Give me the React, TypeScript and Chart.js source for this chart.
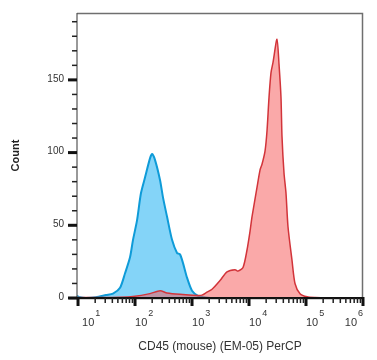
import React, { useEffect, useRef } from "react";
import { Chart, registerables } from "chart.js";

Chart.register(...registerables);

// Blue histogram (unstained / control)
const blueX = [9.6, 10.8, 13.8, 20.7, 31.0, 41.1, 54.6, 66.8, 81.7, 92.2, 108, 127, 150, 183, 199, 224, 275, 310, 364, 446, 546, 615, 695, 817, 1000, 1274, 1626, 2070];
const blueY = [1.5, 0.5, 0, 0.5, 2, 3, 7, 17, 28, 40, 53, 72, 83, 96, 99, 95, 81, 69, 56, 40, 31, 30, 24, 14, 5, 1.5, 0.5, 0];

// Red histogram (CD45 stained)
const redX = [9.6, 24.3, 54.6, 92.2, 183, 275, 364, 615, 1224, 1496, 1832, 2244, 3098, 4111, 5675, 6409, 7853, 9226, 10430, 11300, 13810, 15600, 16910, 19100, 20700, 22440, 24320, 26370, 30970, 33570, 36390, 37920, 41110, 44570, 48310, 56750, 64090, 78530, 104300, 143900, 263600, 1000000];
const redY = [0.3, 0.3, 0.5, 1, 3, 5, 3.5, 2.5, 1.8, 2, 4, 6, 12, 18, 19.5, 18.5, 21, 33, 46, 56, 76, 88, 92, 101, 115, 138, 155, 162, 178, 161, 138, 111, 86, 72, 49, 26, 10, 3, 0.8, 0.3, 0.1, 0];

const yMajorTicks = [0, 50, 100, 150];
const yMinorTicks = [10, 20, 30, 40, 60, 70, 80, 90, 110, 120, 130, 140, 160, 170, 180, 190];
const xDecades = [1, 2, 3, 4, 5, 6];
const xTitle = "CD45 (mouse) (EM-05) PerCP";
const yTitle = "Count";

const FONT = '"Liberation Sans", Arial, sans-serif';

const axesPlugin = {
  id: "flowAxes",
  afterDraw(chart: any) {
    const { ctx, chartArea: a, scales } = chart;
    const xs = scales.x;
    const ys = scales.y;
    ctx.save();
    // frame
    ctx.strokeStyle = "#6f6f6f";
    ctx.lineWidth = 1.5;
    ctx.beginPath();
    ctx.moveTo(a.left, a.top + 0.5);
    ctx.lineTo(a.right - 0.5, a.top + 0.5);
    ctx.lineTo(a.right - 0.5, a.bottom);
    ctx.stroke();
    ctx.strokeStyle = "#555";
    ctx.lineWidth = 1.2;
    ctx.beginPath();
    ctx.moveTo(a.left, a.top);
    ctx.lineTo(a.left, a.bottom);
    ctx.stroke();
    // x axis line
    ctx.fillStyle = "#111";
    ctx.fillRect(a.left - 8, a.bottom - 1, a.right - a.left + 9, 2.2);

    // y ticks
    for (const v of yMinorTicks) {
      const y = ys.getPixelForValue(v);
      ctx.fillStyle = "#222";
      ctx.fillRect(a.left - 5, y - 0.75, 5, 1.5);
    }
    ctx.font = `10px ${FONT}`;
    ctx.textAlign = "right";
    ctx.textBaseline = "middle";
    for (const v of yMajorTicks) {
      const y = ys.getPixelForValue(v);
      ctx.fillStyle = "#111";
      ctx.fillRect(a.left - 9, y - 1.5, 9, 3);
      ctx.fillStyle = "#333";
      ctx.fillText(String(v), a.left - 13, y - 1);
    }

    // x ticks
    for (const d of xDecades) {
      if (d < 6) {
        for (let m = 2; m <= 9; m++) {
          const x = xs.getPixelForValue(m * Math.pow(10, d));
          ctx.fillStyle = "#222";
          ctx.fillRect(x - 0.75, a.bottom, 1.5, 5);
        }
      }
    }
    for (const d of xDecades) {
      const x = xs.getPixelForValue(Math.pow(10, d));
      ctx.fillStyle = "#111";
      ctx.fillRect(x - 1.5, a.bottom - 1, 3, 9);
      // label 10^d
      ctx.fillStyle = "#333";
      ctx.textBaseline = "alphabetic";
      ctx.textAlign = "left";
      ctx.font = `11px ${FONT}`;
      const baseW = ctx.measureText("10").width;
      ctx.font = `9px ${FONT}`;
      const supW = ctx.measureText(String(d)).width;
      let left = x;
      if (d === 1) left = x + 4;
      if (d === 6) left = x - baseW - supW - 1;
      ctx.font = `11px ${FONT}`;
      ctx.fillText("10", left, 326);
      ctx.font = `9px ${FONT}`;
      ctx.fillText(String(d), left + baseW + 1, 316);
    }

    // titles
    ctx.fillStyle = "#333";
    ctx.font = `12px ${FONT}`;
    ctx.textAlign = "center";
    ctx.textBaseline = "middle";
    ctx.fillText(xTitle, (a.left + a.right) / 2, 347);
    ctx.save();
    ctx.translate(16, (a.top + a.bottom) / 2);
    ctx.rotate(-Math.PI / 2);
    ctx.font = `bold 11px ${FONT}`;
    ctx.fillStyle = "#222";
    ctx.fillText(yTitle, 0, 0);
    ctx.restore();
    ctx.restore();
  },
};

export default function App() {
  const ref = useRef<HTMLCanvasElement>(null);
  useEffect(() => {
    document.body.style.margin = "0";
    const canvas = ref.current!;
    const chart = new Chart(canvas, {
      type: "line",
      data: {
        datasets: [
          {
            label: "CD45",
            data: redX.map((x, i) => ({ x, y: redY[i] })),
            borderColor: "#D2343A",
            backgroundColor: "rgba(245,90,90,0.52)",
            borderWidth: 1.5,
            fill: "origin",
            pointRadius: 0,
            tension: 0.25,
            order: 0,
          },
          {
            label: "control",
            data: blueX.map((x, i) => ({ x, y: blueY[i] })),
            borderColor: "#0E9BD8",
            backgroundColor: "#84D4F8",
            borderWidth: 2,
            fill: "origin",
            pointRadius: 0,
            tension: 0.25,
            order: 1,
          },
        ],
      },
      options: {
        responsive: false,
        animation: false,
        layout: { padding: { left: 77, right: 14, top: 13, bottom: 62 } },
        plugins: { legend: { display: false }, tooltip: { enabled: false } },
        scales: {
          x: { type: "logarithmic", min: Math.pow(10, 0.982), max: 1000000, display: false },
          y: { type: "linear", min: 0, max: 196, display: false },
        },
      },
      plugins: [axesPlugin],
    });
    return () => chart.destroy();
  }, []);
  return <canvas ref={ref} width={377} height={360} style={{ display: "block" }} />;
}
